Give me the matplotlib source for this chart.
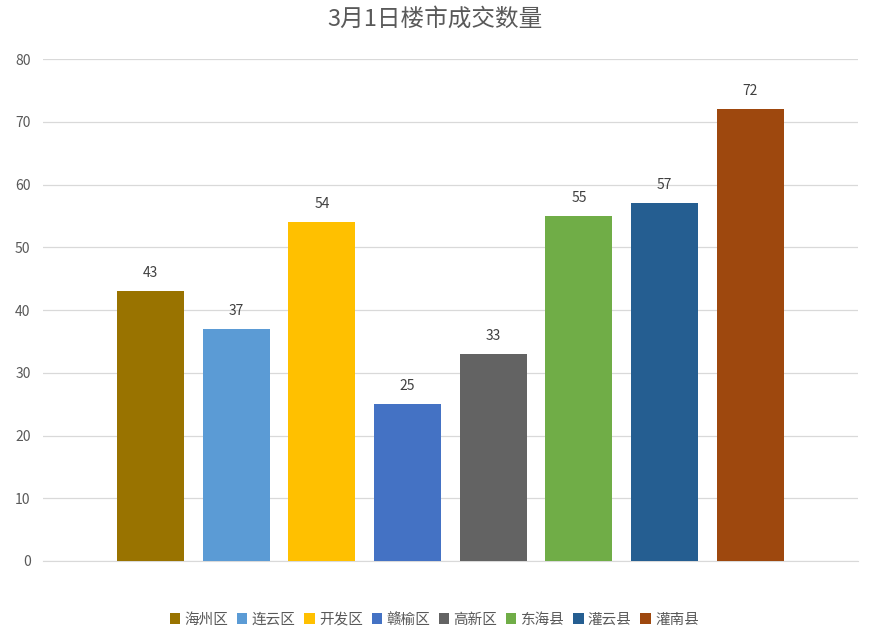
import matplotlib
matplotlib.use("Agg")
import matplotlib.pyplot as plt
from matplotlib.patches import Patch

plt.rcParams['font.family'] = ['Noto Sans CJK SC', 'DejaVu Sans']

# data
districts = ['海州区', '连云区', '开发区', '赣榆区', '高新区', '东海县', '灌云县', '灌南县']
deals = [43, 37, 54, 25, 33, 55, 57, 72]
colors = ['#997300', '#5B9BD5', '#FFC000', '#4472C4', '#636363', '#70AD47', '#255E91', '#9E480E']

text_gray = '#595959'

fig = plt.figure(figsize=(8.69, 6.44), dpi=100)
ax = fig.add_axes([0.0495, 0.129, 0.9375, 0.779])

x = list(range(len(districts)))
ax.bar(x, deals, width=0.78, color=colors, zorder=3)

for xi, v in zip(x, deals):
    ax.text(xi, v + 1.8, str(v), ha='center', va='bottom', fontsize=10, color='#404040')

ax.set_xlim(-1.254, len(districts) - 1 + 1.254)
ax.set_ylim(0, 80)
ax.set_yticks(range(0, 81, 10))
ax.set_xticks([])
ax.tick_params(axis='y', length=0, labelsize=10, labelcolor=text_gray, pad=9)
ax.grid(axis='y', color='#D9D9D9', linewidth=0.9, zorder=0)

for s in ['top', 'right', 'left']:
    ax.spines[s].set_visible(False)
ax.spines['bottom'].set_color('#D9D9D9')

fig.suptitle('3月1日楼市成交数量', x=0.5, y=0.988, fontsize=17, color=text_gray)

handles = [Patch(facecolor=c, label=d) for d, c in zip(districts, colors)]
fig.legend(handles=handles, loc='center', bbox_to_anchor=(0.5, 0.038), ncol=len(districts),
           frameon=False, fontsize=10.5, handlelength=0.7, handleheight=0.7,
           handletextpad=0.3, columnspacing=0.6, labelcolor=text_gray)

fig.savefig('out.png', dpi=100)
